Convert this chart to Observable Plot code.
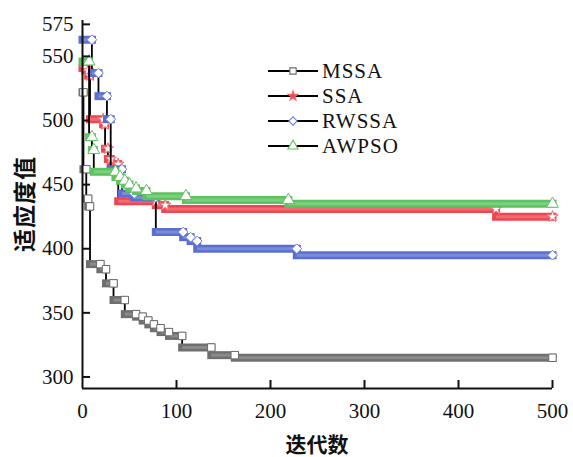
<!DOCTYPE html>
<html>
<head>
<meta charset="utf-8">
<script src="https://cdn.jsdelivr.net/npm/d3@7"></script>
<script src="https://cdn.jsdelivr.net/npm/@observablehq/plot@0.6"></script>
<style>
  body { margin: 0; background: #fff; }
  #chart { position: relative; width: 573px; height: 457px; }
  #overlay { position: absolute; left: 0; top: 0; pointer-events: none; }
  #overlay .leg { font-family: "Liberation Serif", "DejaVu Serif", serif; }
  #overlay .title { font-family: "Noto Sans CJK SC", sans-serif; font-weight: bold; }
</style>
</head>
<body>
<div id="chart"></div>
<script>
// Axis ticks
const iterTicks = [0, 100, 200, 300, 400, 500];
const fitTicks = [300, 350, 400, 450, 500, 550, 575];

// Convergence curves: iteration where the best fitness changes, and the new value.
// The last entry is the final iteration.
const mssaIter = [0, 1, 4, 6, 8, 19, 25, 33, 45, 57, 64, 70, 76, 83, 92, 106, 137, 162, 500];
const mssaFit  = [522, 462, 439, 433, 388, 384, 373, 360, 349, 347, 344, 341, 338, 335, 332, 323, 317, 315, 315];

const ssaIter = [0, 3, 6, 8, 22, 24, 27, 30, 38, 78, 88, 440, 500];
const ssaFit  = [541, 539, 535, 501, 497, 478, 470, 466, 437, 434, 431, 425, 425];

const rwssaIter = [0, 10, 17, 26, 30, 42, 55, 78, 107, 115, 122, 228, 500];
const rwssaFit  = [563, 537, 519, 501, 462, 443, 440, 413, 409, 406, 400, 395, 395];

const awpsoIter = [0, 7, 10, 12, 35, 40, 45, 50, 57, 68, 110, 219, 500];
const awpsoFit  = [546, 487, 477, 460, 456, 453, 450, 447, 445, 441, 438, 435, 435];

const seriesNames = ["MSSA", "SSA", "RWSSA", "AWPSO"];
const seriesIter = [mssaIter, ssaIter, rwssaIter, awpsoIter];
const seriesFit = [mssaFit, ssaFit, rwssaFit, awpsoFit];
const seriesColor = ["#6f6f6f", "#ee4650", "#5a6fcf", "#5cc35f"];
const seriesEdge = ["#6a6a6a", "#f06a70", "#6f82d6", "#62c065"];
const seriesSymbol = ["square", "star", "diamond2", "triangle"];
const seriesR = [4.2, 3.6, 4.4, 4.4];

const serif = "'Liberation Serif', 'DejaVu Serif', serif";

const marks = [];

seriesNames.forEach((name, s) => {
  const iters = seriesIter[s];
  const fits = seriesFit[s];
  const points = iters.map((it, i) => ({iter: it, fit: fits[i]}));
  // one plateau per value, held until the next change
  const plateaus = points.slice(0, -1).map((p, i) => ({x1: p.iter, x2: points[i + 1].iter, fit: p.fit}));

  marks.push(
    Plot.line(points, {x: "iter", y: "fit", curve: "step-after", stroke: "#000", strokeWidth: 1.8}),
    Plot.link(plateaus, {x1: "x1", x2: "x2", y1: "fit", y2: "fit",
      stroke: seriesColor[s], strokeWidth: 8, strokeLinecap: "square"}),
    Plot.link(plateaus, {x1: "x1", x2: "x2", y1: "fit", y2: "fit",
      stroke: "#fff", strokeOpacity: 0.2, strokeWidth: 3, strokeLinecap: "butt"}),
    Plot.dot(plateaus, {x: "x2", y: "fit", symbol: seriesSymbol[s], r: seriesR[s],
      fill: "#fff", stroke: seriesEdge[s], strokeWidth: 1})
  );
});

const W = 573, H = 457;
const margin = {left: 82, right: 21, top: 20, bottom: 69};

const plot = Plot.plot({
  width: W,
  height: H,
  marginLeft: margin.left,
  marginRight: margin.right,
  marginTop: margin.top,
  marginBottom: margin.bottom,
  x: {domain: [0, 500]},
  y: {domain: [291, 578]},
  style: {fontFamily: serif, fontSize: "21px", color: "#111", background: "#fff"},
  marks: [
    ...marks,
    // axis lines
    Plot.ruleX([0], {stroke: "#111", strokeWidth: 2}),
    Plot.ruleY([291], {stroke: "#111", strokeWidth: 2}),
    // inward tick marks
    Plot.axisY({ticks: fitTicks, tickSize: 8, dx: 8, tickFormat: () => "", label: null, strokeWidth: 2, stroke: "#111"}),
    Plot.axisX({ticks: iterTicks.slice(1), tickSize: 8, dy: -8, tickFormat: () => "", label: null, strokeWidth: 2, stroke: "#111"}),
    // tick labels
    Plot.axisY({ticks: fitTicks, tickSize: 0, tickPadding: 9, label: null, fontSize: 21, fontFamily: serif}),
    Plot.axisX({ticks: iterTicks, tickSize: 0, tickPadding: 15, label: null, fontSize: 21, fontFamily: serif})
  ]
});

const chart = document.getElementById("chart");
chart.appendChild(plot);

// Axis titles and legend, drawn over the chart
const overlay = d3.select(chart).append("svg")
  .attr("id", "overlay")
  .attr("width", W)
  .attr("height", H);

const midY = (margin.top + H - margin.bottom) / 2;
const midX = (margin.left + W - margin.right) / 2;

overlay.append("text")
  .attr("class", "title")
  .attr("transform", `translate(23, ${midY}) rotate(-90)`)
  .attr("text-anchor", "middle")
  .attr("dominant-baseline", "central")
  .attr("font-size", 23)
  .attr("letter-spacing", "1px")
  .attr("fill", "#111")
  .text("适应度值");

overlay.append("text")
  .attr("class", "title")
  .attr("x", midX)
  .attr("y", 443)
  .attr("text-anchor", "middle")
  .attr("dominant-baseline", "central")
  .attr("font-size", 21)
  .attr("fill", "#111")
  .text("迭代数");

const rows = overlay.selectAll("g.row")
  .data(seriesNames)
  .join("g")
  .attr("class", "row")
  .attr("transform", (d, i) => `translate(268, ${71 + i * 25})`);

rows.append("line")
  .attr("x1", 0).attr("x2", 50)
  .attr("stroke", "#000").attr("stroke-width", 2);

rows.append("path")
  .attr("transform", "translate(25,0)")
  .attr("d", (d, i) => {
    const types = [d3.symbolSquare, d3.symbolStar, d3.symbolDiamond2, d3.symbolTriangle];
    const sizes = [40, 30, 45, 45];
    return d3.symbol(types[i], sizes[i])();
  })
  .attr("fill", (d, i) => i === 1 ? seriesColor[i] : "#fff")
  .attr("stroke", (d, i) => seriesEdge[i])
  .attr("stroke-width", 1.1);

rows.append("text")
  .attr("class", "leg")
  .attr("x", 54)
  .attr("dy", "0.35em")
  .attr("font-size", 21)
  .attr("letter-spacing", "1px")
  .attr("fill", "#111")
  .text(d => d);
</script>
</body>
</html>
